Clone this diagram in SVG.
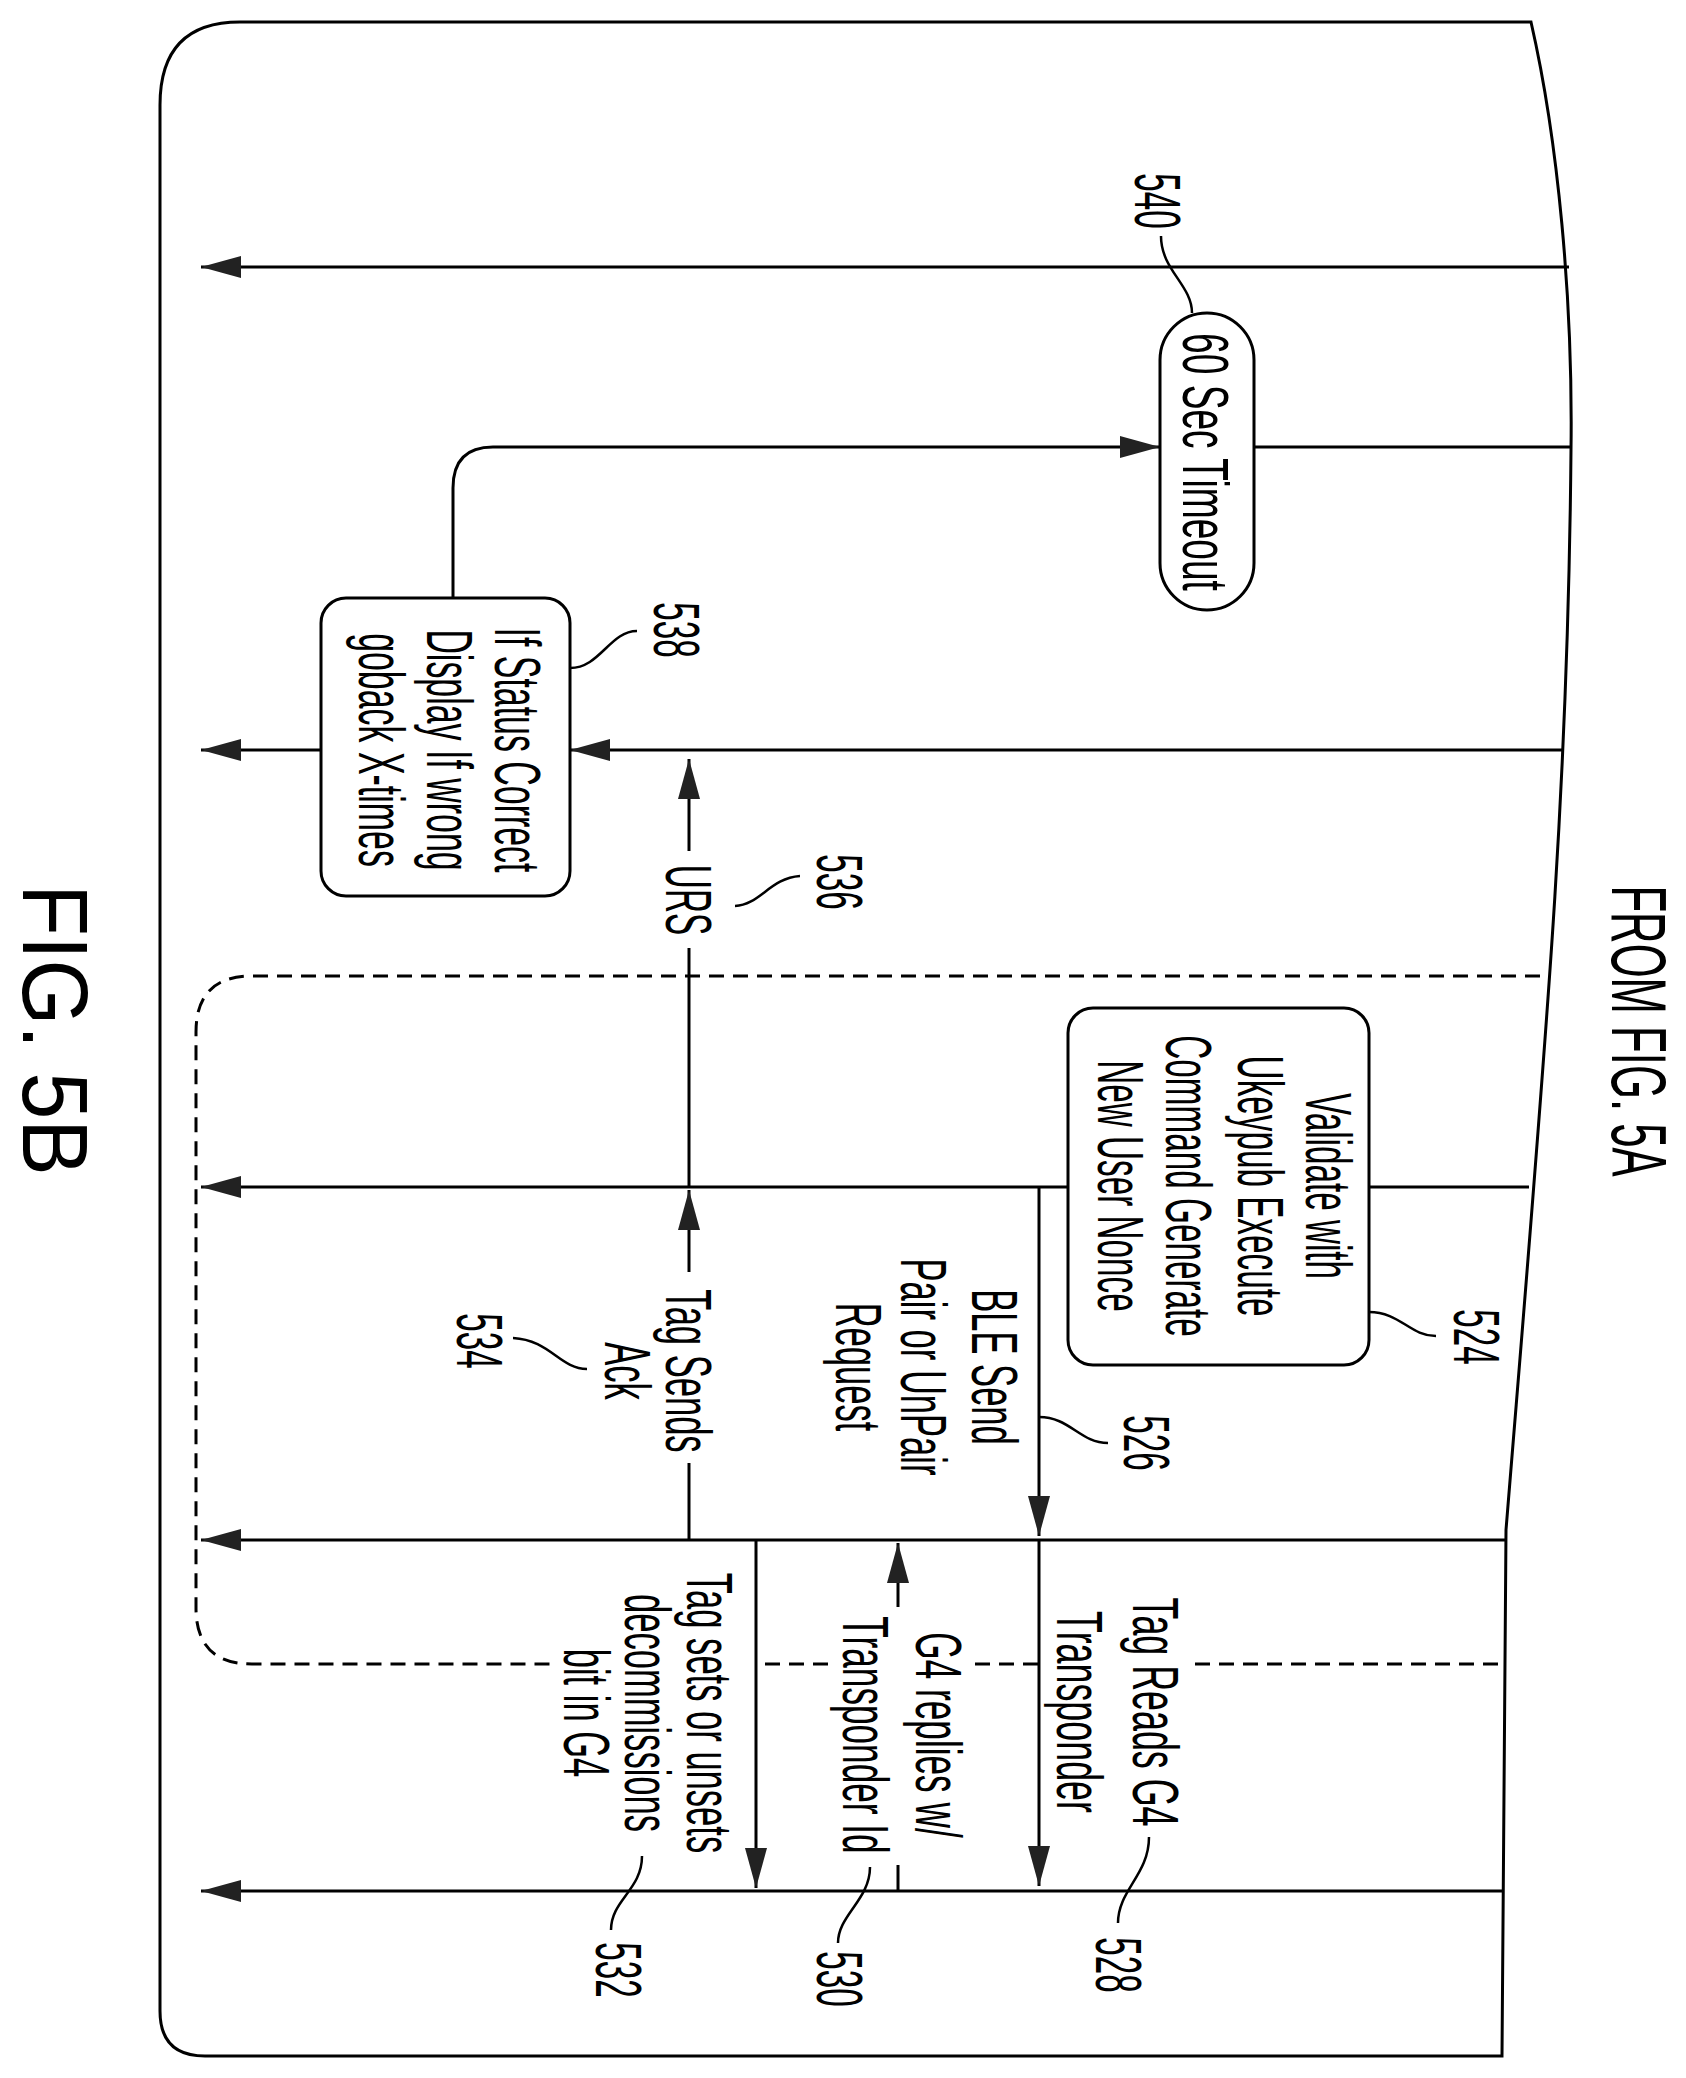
<svg xmlns="http://www.w3.org/2000/svg" width="1686" height="2078" viewBox="0 0 1686 2078">
<style>
.ln{stroke:#000;stroke-width:3;fill:none}
.ld{stroke:#000;stroke-width:2.5;fill:none}
.ds{stroke:#000;stroke-width:3;fill:none;stroke-dasharray:15 9}
.bx{stroke:#000;stroke-width:3;fill:#fff}
.t{font-family:"Liberation Sans",Arial,sans-serif;font-size:64px;text-anchor:middle;fill:#000}
.tf{font-family:"Liberation Sans",Arial,sans-serif;font-size:78px;text-anchor:middle;fill:#000}
.tg{font-family:"Liberation Sans",Arial,sans-serif;font-size:92px;text-anchor:middle;fill:#000}
</style>
<defs>
<marker id="ah" markerUnits="userSpaceOnUse" markerWidth="44" markerHeight="26" refX="40" refY="11" orient="auto">
<path d="M0,0 L40,11 L0,22 Z" fill="#222"/>
</marker>
</defs>
<rect width="1686" height="2078" fill="#fff"/>
<path class="ln" d="M240,22 L1531,22 C1558,140 1573,300 1571,450 C1568,800 1545,1050 1506,1530 L1502,2056 L205,2056 Q160,2056 160,2011 L160,105 Q160,22 240,22 Z"/>

<g id="connectors">
<path class="ln" d="M1569,267 L201,267" marker-end="url(#ah)"/>
<path class="ln" d="M1571,447 L1254,447"/>
<path class="ln" d="M453,598 L453,488 Q453,447 493,447 L1160,447" marker-end="url(#ah)"/>
<path class="ln" d="M1562,750 L570,750" marker-end="url(#ah)"/>
<path class="ln" d="M321,750 L201,750" marker-end="url(#ah)"/>
<path class="ln" d="M689,851 L689,759" marker-end="url(#ah)"/>
<path class="ln" d="M689,948 L689,1187"/>
<path class="ln" d="M689,1272 L689,1190" marker-end="url(#ah)"/>
<path class="ln" d="M689,1463 L689,1540"/>
<path class="ln" d="M1529,1187 L1369,1187"/>
<path class="ln" d="M1068,1187 L201,1187" marker-end="url(#ah)"/>
<path class="ln" d="M1039,1187 L1039,1536" marker-end="url(#ah)"/>
<path class="ln" d="M1505,1540 L201,1540" marker-end="url(#ah)"/>
<path class="ln" d="M1039,1540 L1039,1886" marker-end="url(#ah)"/>
<path class="ln" d="M898,1607 L898,1543" marker-end="url(#ah)"/>
<path class="ln" d="M898,1865 L898,1891"/>
<path class="ln" d="M756,1540 L756,1888" marker-end="url(#ah)"/>
<path class="ln" d="M1502,1891 L201,1891" marker-end="url(#ah)"/>
<path class="ds" d="M1540,976 L252,976 Q196,976 196,1032 L196,1608 Q196,1664 252,1664 L555,1664"/>
<path class="ds" d="M765,1664 L830,1664 M975,1664 L1040,1664 M1195,1664 L1503,1664"/>
<path class="ld" d="M1161,236 C1161,270 1192,285 1192,313"/>
<path class="ld" d="M570,668 C600,668 610,631 637,631"/>
<path class="ld" d="M735,906 C760,905 770,878 800,876"/>
<path class="ld" d="M1369,1312 C1400,1312 1410,1336 1436,1336"/>
<path class="ld" d="M1039,1417 C1070,1417 1080,1443 1108,1443"/>
<path class="ld" d="M513,1338 C550,1340 560,1369 587,1369"/>
<path class="ld" d="M1149,1837 C1149,1875 1118,1890 1118,1923"/>
<path class="ld" d="M870,1867 C870,1900 838,1915 838,1943"/>
<path class="ld" d="M642,1856 C642,1890 611,1900 611,1930"/>
</g>

<g id="n540">
<rect class="bx" x="1160" y="313" width="94" height="297" rx="47"/>
<text class="t" transform="translate(1183,462) rotate(90) scale(0.58,1)">60 Sec Timeout</text>
<text class="t" transform="translate(1135,201) rotate(90) scale(0.52,1)">540</text>
</g>

<g id="n538">
<rect class="bx" x="321" y="598" width="249" height="298" rx="25"/>
<text class="t" transform="translate(495,750) rotate(90) scale(0.53,1)">If Status Correct</text>
<text class="t" transform="translate(427,750) rotate(90) scale(0.53,1)">Display If wrong</text>
<text class="t" transform="translate(359,750) rotate(90) scale(0.53,1)">goback X-times</text>
<text class="t" transform="translate(654,630) rotate(90) scale(0.52,1)">538</text>
</g>

<g id="n536">
<text class="t" transform="translate(666,900) rotate(90) scale(0.52,1)">URS</text>
<text class="t" transform="translate(817,882) rotate(90) scale(0.52,1)">536</text>
</g>

<g id="n524">
<rect class="bx" x="1068" y="1008" width="301" height="357" rx="25"/>
<text class="t" transform="translate(1306,1186) rotate(90) scale(0.52,1)">Validate with</text>
<text class="t" transform="translate(1238,1186) rotate(90) scale(0.52,1)">Ukeypub Execute</text>
<text class="t" transform="translate(1166,1186) rotate(90) scale(0.52,1)">Command Generate</text>
<text class="t" transform="translate(1098,1186) rotate(90) scale(0.52,1)">New User Nonce</text>
<text class="t" transform="translate(1454,1337) rotate(90) scale(0.52,1)">524</text>
</g>

<g id="n526">
<text class="t" transform="translate(972,1367) rotate(90) scale(0.54,1)">BLE Send</text>
<text class="t" transform="translate(901,1367) rotate(90) scale(0.54,1)">Pair or UnPair</text>
<text class="t" transform="translate(836,1367) rotate(90) scale(0.54,1)">Request</text>
<text class="t" transform="translate(1124,1443) rotate(90) scale(0.52,1)">526</text>
</g>

<g id="n534">
<text class="t" transform="translate(666,1371) rotate(90) scale(0.54,1)">Tag Sends</text>
<text class="t" transform="translate(605,1371) rotate(90) scale(0.54,1)">Ack</text>
<text class="t" transform="translate(457,1341) rotate(90) scale(0.52,1)">534</text>
</g>

<g id="n528">
<text class="t" transform="translate(1133,1712) rotate(90) scale(0.56,1)">Tag Reads G4</text>
<text class="t" transform="translate(1057,1712) rotate(90) scale(0.56,1)">Transponder</text>
<text class="t" transform="translate(1096,1965) rotate(90) scale(0.52,1)">528</text>
</g>

<g id="n530">
<text class="t" transform="translate(916,1735) rotate(90) scale(0.55,1)">G4 replies w/</text>
<text class="t" transform="translate(843,1735) rotate(90) scale(0.55,1)">Transponder Id</text>
<text class="t" transform="translate(817,1979) rotate(90) scale(0.52,1)">530</text>
</g>

<g id="n532">
<text class="t" transform="translate(687,1713) rotate(90) scale(0.54,1)">Tag sets or unsets</text>
<text class="t" transform="translate(625,1713) rotate(90) scale(0.54,1)">decommissions</text>
<text class="t" transform="translate(564,1713) rotate(90) scale(0.54,1)">bit in G4</text>
<text class="t" transform="translate(596,1970) rotate(90) scale(0.52,1)">532</text>
</g>

<g id="labels">
<text class="tf" transform="translate(1612,1031) rotate(90) scale(0.56,1)">FROM FIG. 5A</text>
<text class="tg" transform="translate(23,1030) rotate(90) scale(0.92,1)">FIG. 5B</text>
</g>
</svg>
